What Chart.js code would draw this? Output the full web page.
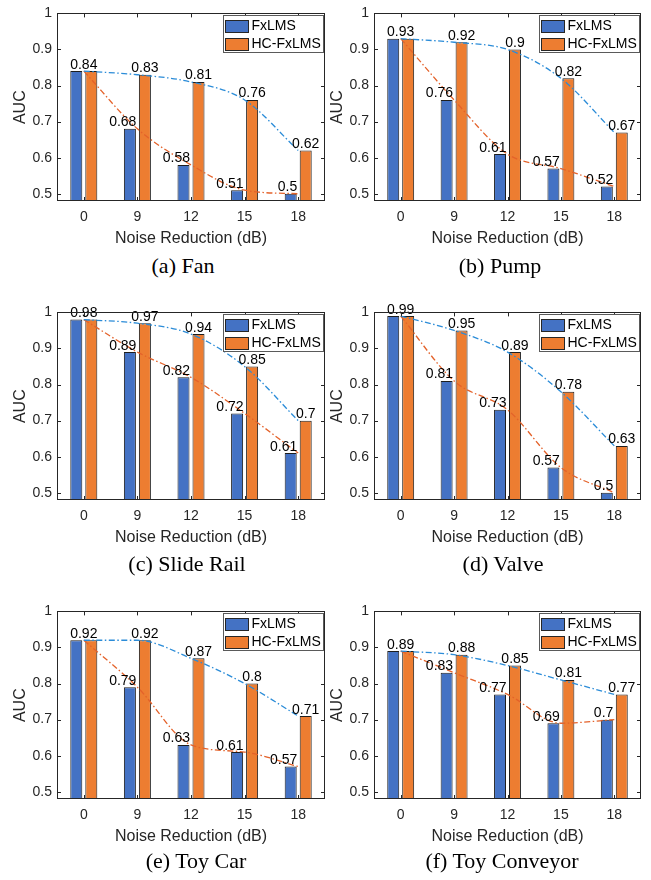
<!DOCTYPE html>
<html>
<head>
<meta charset="utf-8">
<script src="https://cdn.jsdelivr.net/npm/chart.js@4/dist/chart.umd.min.js"></script>
<style>
  html, body { margin: 0; padding: 0; background: #fff; }
  body { position: relative; width: 651px; height: 880px; overflow: hidden; }
  canvas { position: absolute; }
  .caption {
    position: absolute;
    font-family: "Liberation Serif", "Times New Roman", Times, serif;
    font-size: 22px;
    line-height: 22px;
    color: #000;
    white-space: nowrap;
    transform: translateX(-50%);
  }
</style>
</head>
<body>
<script>
// Noise-reduction levels on the x axis
const noiseReduction = ['0', '9', '12', '15', '18'];
const seriesNames = ['FxLMS', 'HC-FxLMS'];
const yTickValues = [0.5, 0.6, 0.7, 0.8, 0.9, 1];

// AUC per machine type
const fanFxLMS = [0.84, 0.68, 0.58, 0.51, 0.50];
const fanHC = [0.84, 0.83, 0.81, 0.76, 0.62];
const pumpFxLMS = [0.93, 0.76, 0.61, 0.57, 0.52];
const pumpHC = [0.93, 0.92, 0.90, 0.82, 0.67];
const slideRailFxLMS = [0.98, 0.89, 0.82, 0.72, 0.61];
const slideRailHC = [0.98, 0.97, 0.94, 0.85, 0.70];
const valveFxLMS = [0.99, 0.81, 0.73, 0.57, 0.50];
const valveHC = [0.99, 0.95, 0.89, 0.78, 0.63];
const toyCarFxLMS = [0.92, 0.79, 0.63, 0.61, 0.57];
const toyCarHC = [0.92, 0.92, 0.87, 0.80, 0.71];
const toyConveyorFxLMS = [0.89, 0.83, 0.77, 0.69, 0.70];
const toyConveyorHC = [0.89, 0.88, 0.85, 0.81, 0.77];

const captions = ['(a) Fan', '(b) Pump', '(c) Slide Rail', '(d) Valve', '(e) Toy Car', '(f) Toy Conveyor'];
const panelSeries = [
  [fanFxLMS, fanHC], [pumpFxLMS, pumpHC],
  [slideRailFxLMS, slideRailHC], [valveFxLMS, valveHC],
  [toyCarFxLMS, toyCarHC], [toyConveyorFxLMS, toyConveyorHC]
];

// ---- layout of the 3x2 grid (plot-area rectangles) ----
const COLS = [{ left: 57, right: 325 }, { left: 374, right: 641 }];
const ROWS = [{ top: 5, bottom: 201 }, { top: 304, bottom: 500 }, { top: 603, bottom: 799 }];
const CAPTION_POS = [[183, 273], [500, 273], [187, 571], [503, 571], [196, 868], [502, 868]];
const PAD = { left: 57, right: 8, top: 5, bottom: 52 };

const SANS = '"Liberation Sans", Arial, Helvetica, sans-serif';
const AXIS_COLOR = '#262626';
const BAR_BLUE = '#4472C4';
const BAR_ORANGE = '#ED7D31';
const CURVE_BLUE = '#2B8CD8';
const CURVE_ORANGE = '#E4622A';

Chart.defaults.font.family = SANS;
Chart.defaults.color = AXIS_COLOR;

// Box around the plot with inward tick marks on all four sides
const boxAxes = {
  id: 'boxAxes',
  afterDraw(chart) {
    const { ctx, chartArea: a, scales: { x, y } } = chart;
    ctx.save();
    ctx.strokeStyle = AXIS_COLOR;
    ctx.lineWidth = 1;
    ctx.beginPath();
    const L = 4;
    yTickValues.forEach(v => {
      const py = Math.round(y.getPixelForValue(v)) + 0.5;
      ctx.moveTo(a.left, py); ctx.lineTo(a.left + L, py);
      ctx.moveTo(a.right, py); ctx.lineTo(a.right - L, py);
    });
    noiseReduction.forEach((c, i) => {
      const px = Math.round(x.getPixelForValue(i)) + 0.5;
      ctx.moveTo(px, a.bottom); ctx.lineTo(px, a.bottom - L);
      ctx.moveTo(px, a.top); ctx.lineTo(px, a.top + L);
    });
    ctx.stroke();
    ctx.strokeRect(Math.round(a.left) + 0.5, Math.round(a.top) + 0.5,
      Math.round(a.right - a.left) - 1, Math.round(a.bottom - a.top) - 1);
    ctx.restore();
  }
};

// Value labels above the bars
const barValues = {
  id: 'barValues',
  afterDatasetsDraw(chart) {
    const { ctx } = chart;
    const blueMeta = chart.getDatasetMeta(2);
    const orangeMeta = chart.getDatasetMeta(3);
    const blueVals = chart.data.datasets[2].data;
    const orangeVals = chart.data.datasets[3].data;
    ctx.save();
    ctx.font = '14px ' + SANS;
    ctx.fillStyle = '#000';
    ctx.textBaseline = 'alphabetic';
    blueVals.forEach((v, i) => {
      const b = blueMeta.data[i], o = orangeMeta.data[i];
      if (v === orangeVals[i]) {
        ctx.textAlign = 'center';
        ctx.fillText(String(v), (b.x + o.x) / 2, Math.min(b.y, o.y) - 2.5);
      } else {
        ctx.textAlign = 'right';
        ctx.fillText(String(v), b.x + b.width / 2 + 0.5, b.y - 2.5);
        ctx.textAlign = 'center';
        ctx.fillText(String(orangeVals[i]), o.x, o.y - 2.5);
      }
    });
    ctx.restore();
  }
};

// Legend box in the upper-right corner of the plot
const cornerLegend = {
  id: 'cornerLegend',
  afterDraw(chart) {
    const { ctx, chartArea: a } = chart;
    ctx.save();
    ctx.font = '14px ' + SANS;
    const textW = Math.max(...seriesNames.map(n => ctx.measureText(n).width));
    const sw = 23, sh = 12;
    const w = Math.round(2 + sw + 3 + textW + 3);
    const h = 37;
    const right = a.right - 2.5;
    const left = Math.round(right - w) + 0.5;
    const top = Math.round(a.top + 1.5) + 0.5;
    ctx.fillStyle = '#fff';
    ctx.fillRect(left, top, w, h);
    ctx.strokeStyle = '#5a5a5a';
    ctx.lineWidth = 1;
    ctx.strokeRect(left, top, w, h);
    const colors = [BAR_BLUE, BAR_ORANGE];
    const rowsY = [top + 10.5, top + 28];
    seriesNames.forEach((n, i) => {
      const sx = left + 2, sy = Math.round(rowsY[i] - sh / 2) + 0.5;
      ctx.fillStyle = colors[i];
      ctx.fillRect(sx, sy, sw, sh);
      ctx.strokeStyle = AXIS_COLOR;
      ctx.strokeRect(sx, sy, sw, sh);
      ctx.fillStyle = '#000';
      ctx.textAlign = 'left';
      ctx.textBaseline = 'middle';
      ctx.fillText(n, sx + sw + 3, rowsY[i] + 0.5);
    });
    ctx.restore();
  }
};

function makePanel(idx) {
  const col = COLS[idx % 2], row = ROWS[Math.floor(idx / 2)];
  const [fx, hc] = panelSeries[idx];
  const W = (col.right - col.left) + PAD.left + PAD.right;
  const H = (row.bottom - row.top) + PAD.top + PAD.bottom;
  const canvas = document.createElement('canvas');
  canvas.width = W; canvas.height = H;
  canvas.style.left = (col.left - PAD.left) + 'px';
  canvas.style.top = (row.top - PAD.top) + 'px';
  canvas.style.width = W + 'px'; canvas.style.height = H + 'px';
  document.body.appendChild(canvas);

  const cap = document.createElement('div');
  cap.className = 'caption';
  cap.textContent = captions[idx];
  cap.style.left = CAPTION_POS[idx][0] + 'px';
  cap.style.top = (CAPTION_POS[idx][1] - 18) + 'px';
  document.body.appendChild(cap);

  const curve = (data, color) => ({
    type: 'line', data, borderColor: color, borderWidth: 1.3,
    borderDash: [6, 2.5, 1.5, 2.5], pointRadius: 0, fill: false,
    cubicInterpolationMode: 'monotone', order: 0
  });
  const bars = (label, data, color) => ({
    type: 'bar', label, data, backgroundColor: color,
    borderColor: '#1e1e1e', borderWidth: 1, order: 1,
    categoryPercentage: 0.56, barPercentage: 0.8
  });

  new Chart(canvas, {
    data: {
      labels: noiseReduction,
      datasets: [
        curve(hc, CURVE_BLUE),
        curve(fx, CURVE_ORANGE),
        bars(seriesNames[0], fx, BAR_BLUE),
        bars(seriesNames[1], hc, BAR_ORANGE)
      ]
    },
    options: {
      responsive: false,
      devicePixelRatio: 1,
      animation: false,
      layout: { padding: { left: 0, right: PAD.right, top: PAD.top, bottom: 0 } },
      plugins: { legend: { display: false }, tooltip: { enabled: false } },
      scales: {
        x: {
          type: 'category',
          grid: { display: false, drawTicks: false },
          border: { display: false },
          ticks: { font: { size: 14 }, color: AXIS_COLOR, padding: 8, maxRotation: 0 },
          title: { display: true, text: 'Noise Reduction (dB)', font: { size: 16 }, color: AXIS_COLOR, padding: { top: 0, bottom: 5 } },
          afterFit: s => { s.height = PAD.bottom; }
        },
        y: {
          type: 'linear', min: 0.48, max: 1,
          grid: { display: false, drawTicks: false },
          border: { display: false },
          afterBuildTicks: s => { s.ticks = yTickValues.map(v => ({ value: v })); },
          ticks: {
            font: { size: 14 }, color: AXIS_COLOR, padding: 5,
            callback: v => String(Number(v.toFixed(2)))
          },
          title: { display: true, text: 'AUC', font: { size: 16 }, color: AXIS_COLOR, padding: { top: 11, bottom: 0 } },
          afterFit: s => { s.width = PAD.left; }
        }
      }
    },
    plugins: [barValues, boxAxes, cornerLegend]
  });
}

for (let i = 0; i < 6; i++) makePanel(i);
</script>
</body>
</html>
